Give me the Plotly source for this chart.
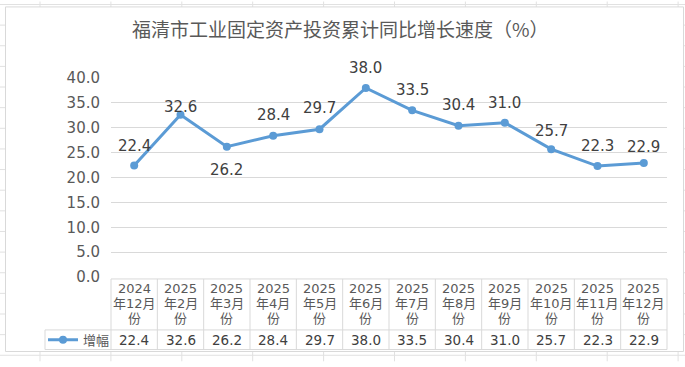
import plotly.graph_objects as go

# ---------------- data ----------------
title_text = "福清市工业固定资产投资累计同比增长速度（%）"
cat_year = ["2024", "2025", "2025", "2025", "2025", "2025",
            "2025", "2025", "2025", "2025", "2025", "2025"]
cat_month = ["年12月", "年2月", "年3月", "年4月", "年5月", "年6月",
             "年7月", "年8月", "年9月", "年10月", "年11月", "年12月"]
cat_suffix = "份"
series_name = "增幅"
values = [22.4, 32.6, 26.2, 28.4, 29.7, 38.0, 33.5, 30.4, 31.0, 25.7, 22.3, 22.9]
y_ticks = [0, 5, 10, 15, 20, 25, 30, 35, 40]

categories = [y + m + cat_suffix for y, m in zip(cat_year, cat_month)]

# ---------------- style ----------------
label_shift = [20, 8, -23, 21, 21, 20, 20, 21, 20, 18, 20, 16]
W, H = 685, 367
L, R, T, B = 111, 667, 78, 281          # plot area in pixels
BLUE = "#5B9BD5"
GRID = "#D9D9D9"
SHEET = "#E1E1E1"
TXT = "#595959"
DARK = "#404040"
FONT = "DejaVu Sans, Noto Sans CJK SC"


def px(X):
    return (X - L) / (R - L)


def py(Y):
    return (B - Y) / (B - T)


n = len(categories)

fig = go.Figure()
fig.add_trace(go.Scatter(
    x=categories, y=values, name=series_name,
    mode="lines+markers",
    line=dict(color=BLUE, width=3),
    marker=dict(color=BLUE, size=8),
    cliponaxis=False,
    showlegend=True,
))

annotations = []
# data labels
for c, v, s in zip(categories, values, label_shift):
    annotations.append(dict(
        x=c, y=v, xref="x", yref="y", text=f"{v:.1f}", showarrow=False,
        yshift=s, font=dict(family=FONT, size=15, color=DARK),
    ))
# table header & values
for i, (yr, mo, v) in enumerate(zip(cat_year, cat_month, values)):
    xc = (i + 0.5) / n
    for line_text, Y in ((yr, 293), (mo, 308), (cat_suffix, 323)):
        annotations.append(dict(
            x=xc, y=py(Y), xref="paper", yref="paper", text=line_text,
            showarrow=False, xanchor="center", yanchor="middle",
            font=dict(family=FONT, size=13, color=TXT),
        ))
    annotations.append(dict(
        x=xc, y=py(345), xref="paper", yref="paper", text=f"{v:.1f}",
        showarrow=False, xanchor="center", yanchor="middle",
        font=dict(family=FONT, size=13.5, color=DARK),
    ))
# title
annotations.append(dict(
    x=px(340), y=py(28), xref="paper", yref="paper", text=title_text,
    showarrow=False, xanchor="center", yanchor="middle",
    font=dict(family="Noto Sans CJK SC", size=19, color=TXT),
))

shapes = []
# spreadsheet grid behind the chart
for k in range(-1, 11):
    X = 40 + 70.9 * k
    shapes.append(dict(type="line", xref="paper", yref="paper", layer="below",
                       x0=px(X), x1=px(X), y0=py(0), y1=py(H),
                       line=dict(color=SHEET, width=1)))
for k in range(0, 18):
    Y = 3 + 21.05 * k
    shapes.append(dict(type="line", xref="paper", yref="paper", layer="below",
                       x0=px(0), x1=px(W), y0=py(Y), y1=py(Y),
                       line=dict(color=SHEET, width=1)))
# chart box
shapes.append(dict(type="rect", xref="paper", yref="paper", layer="below",
                   x0=px(5.5), x1=px(683.5), y0=py(5.5), y1=py(357),
                   fillcolor="white", line=dict(color=GRID, width=1)))
# data table borders
TOP, MID, BOT, LEG = 283, 335, 355, 45
shapes.append(dict(type="line", xref="paper", yref="paper",
                   x0=0, x1=1, y0=py(TOP), y1=py(TOP), line=dict(color=GRID, width=1)))
for Y in (MID, BOT):
    shapes.append(dict(type="line", xref="paper", yref="paper",
                       x0=px(LEG), x1=1, y0=py(Y), y1=py(Y), line=dict(color=GRID, width=1)))
shapes.append(dict(type="line", xref="paper", yref="paper",
                   x0=px(LEG), x1=px(LEG), y0=py(MID), y1=py(BOT), line=dict(color=GRID, width=1)))
for k in range(n + 1):
    shapes.append(dict(type="line", xref="paper", yref="paper",
                       x0=k / n, x1=k / n, y0=py(TOP), y1=py(BOT),
                       line=dict(color=GRID, width=1)))

fig.update_layout(
    width=W, height=H, autosize=False,
    margin=dict(l=L, r=W - R, t=T, b=H - B, pad=0),
    paper_bgcolor="white", plot_bgcolor="rgba(0,0,0,0)",
    font=dict(family=FONT, color=TXT),
    xaxis=dict(type="category", range=[-0.5, n - 0.5], showticklabels=False,
               showgrid=False, zeroline=False, showline=False, ticks=""),
    yaxis=dict(range=[0, 40], tickvals=y_ticks, tickformat=".1f",
               showgrid=True, gridcolor=GRID, gridwidth=1,
               zeroline=False, showline=False, ticks="",
               ticklabelstandoff=10,
               tickfont=dict(family=FONT, size=15, color=TXT)),
    legend=dict(x=px(43), y=py(345), xanchor="left", yanchor="middle",
                bgcolor="rgba(0,0,0,0)", borderwidth=0,
                font=dict(family=FONT, size=13, color=TXT),
                itemwidth=30, tracegroupgap=0),
    annotations=annotations,
    shapes=shapes,
)

fig.write_html("out.html",
               config=dict(displayModeBar=False),
               post_script="document.body.style.margin='0px';"
                           "document.body.style.overflow='hidden';")
